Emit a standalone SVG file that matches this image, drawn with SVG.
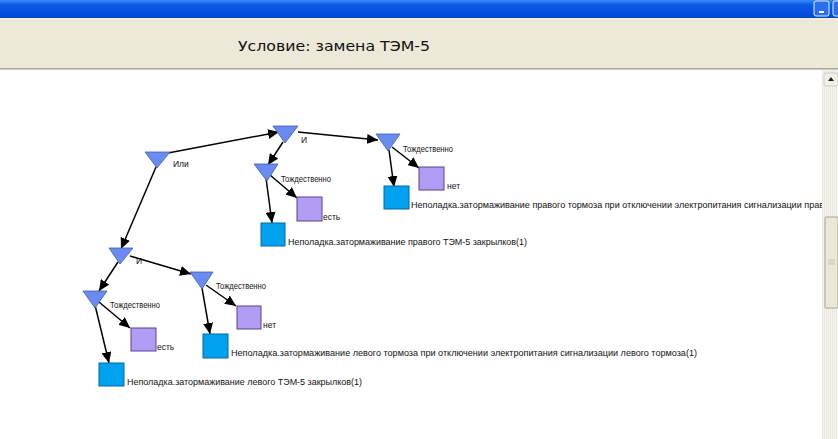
<svg xmlns="http://www.w3.org/2000/svg" width="838" height="439" viewBox="0 0 838 439">
<style>
.tri{fill:#6a8cf0;stroke:#3b5bb5;stroke-width:0.8}
.pur{fill:#b29df5;stroke:#5b3f8c;stroke-width:1}
.blu{fill:#00a2f0;stroke:#0068a8;stroke-width:1}
.lbl{font-family:"Liberation Sans",Arial,sans-serif;font-size:8.5px;fill:#111}
.edge{stroke:#000;stroke-width:1.5;fill:none;marker-end:url(#ah)}
</style>
<defs>
<marker id="ah" markerUnits="userSpaceOnUse" markerWidth="12" markerHeight="10" refX="11" refY="5" orient="auto">
<path d="M0,0 L11,5 L0,10 z" fill="#000"/>
</marker>
<linearGradient id="tb" x1="0" y1="0" x2="0" y2="1">
<stop offset="0" stop-color="#3d8cf7"/>
<stop offset="0.25" stop-color="#0a5ce8"/>
<stop offset="1" stop-color="#0048d6"/>
</linearGradient>
<pattern id="trk" width="2" height="4" patternUnits="userSpaceOnUse">
<rect width="2" height="4" fill="#f5f4ef"/>
<rect width="1" height="4" fill="#ebe9df"/>
</pattern>
</defs>

<!-- window chrome -->
<rect x="0" y="0" width="838" height="18" fill="url(#tb)"/>
<rect x="814" y="1" width="15" height="15" rx="2" fill="#2a6ff0" stroke="#e8eefc" stroke-width="1"/>
<rect x="819" y="11" width="5" height="2" fill="#fff"/>
<rect x="833" y="1" width="8" height="15" rx="2" fill="#2a6ff0" stroke="#e8eefc" stroke-width="1"/>
<rect x="0" y="18" width="838" height="2" fill="#f3ecd6"/>
<rect x="0" y="20" width="838" height="48" fill="#ece9d8"/>
<rect x="0" y="68" width="838" height="1" fill="#a7a69e"/>
<rect x="0" y="69" width="838" height="1" fill="#d0cfc6"/>
<rect x="0" y="70" width="838" height="369" fill="#ffffff"/>
<text x="238" y="51" font-family="'DejaVu Sans',Tahoma,sans-serif" font-size="14" fill="#111" textLength="192" lengthAdjust="spacingAndGlyphs">Условие: замена ТЭМ-5</text>

<!-- connectors -->
<g id="connectors">
<line class="edge" x1="168" y1="153" x2="279" y2="132"/>
<line class="edge" x1="156" y1="167" x2="121" y2="249"/>
<line class="edge" x1="283" y1="142" x2="268" y2="165"/>
<line class="edge" x1="298" y1="132" x2="378" y2="140"/>
<line class="edge" x1="389" y1="150" x2="394" y2="187"/>
<line class="edge" x1="392" y1="147" x2="419" y2="168"/>
<line class="edge" x1="266" y1="178" x2="272" y2="223"/>
<line class="edge" x1="270" y1="175" x2="297" y2="198"/>
<line class="edge" x1="118" y1="262" x2="99" y2="291"/>
<line class="edge" x1="130" y1="256" x2="191" y2="274"/>
<line class="edge" x1="95" y1="305" x2="109" y2="363"/>
<line class="edge" x1="99" y1="302" x2="130" y2="328"/>
<line class="edge" x1="202" y1="288" x2="210" y2="334"/>
<line class="edge" x1="206" y1="285" x2="236" y2="306"/>
</g>

<!-- nodes -->
<g id="n-ili"><polygon class="tri" points="145,152 170,152 157,168"/><text class="lbl" x="173" y="167">Или</text></g>
<g id="n-i-top"><polygon class="tri" points="273,126 298,126 285,143"/><text class="lbl" x="301" y="143">И</text></g>
<g id="n-tozh-r"><polygon class="tri" points="376,134 400,134 388,151"/><text class="lbl" x="403" y="152" textLength="50" lengthAdjust="spacingAndGlyphs">Тождественно</text></g>
<g id="n-tozh-m"><polygon class="tri" points="254,164 278,164 267,181"/><text class="lbl" x="281" y="182" textLength="50" lengthAdjust="spacingAndGlyphs">Тождественно</text></g>
<g id="n-net-r"><rect class="pur" x="419" y="167" width="25" height="23"/><text class="lbl" x="447" y="189">нет</text></g>
<g id="n-fault-r"><rect class="blu" x="384" y="186" width="25" height="23"/><text class="lbl" x="411" y="208" textLength="413" lengthAdjust="spacingAndGlyphs">Неполадка.затормаживание правого тормоза при отключении электропитания сигнализации прав</text></g>
<g id="n-est-m"><rect class="pur" x="297" y="197" width="25" height="24"/><text class="lbl" x="323" y="220">есть</text></g>
<g id="n-fault-m"><rect class="blu" x="261" y="223" width="24" height="23"/><text class="lbl" x="288" y="245" textLength="239" lengthAdjust="spacingAndGlyphs">Неполадка.затормаживание правого ТЭМ-5 закрылков(1)</text></g>
<g id="n-i-low"><polygon class="tri" points="109,248 133,248 120,264"/><text class="lbl" x="136" y="264">И</text></g>
<g id="n-tozh-ll"><polygon class="tri" points="83,291 107,291 95,308"/><text class="lbl" x="110" y="308" textLength="50" lengthAdjust="spacingAndGlyphs">Тождественно</text></g>
<g id="n-tozh-lr"><polygon class="tri" points="190,272 213,272 202,289"/><text class="lbl" x="216" y="289" textLength="50" lengthAdjust="spacingAndGlyphs">Тождественно</text></g>
<g id="n-est-l"><rect class="pur" x="131" y="328" width="25" height="23"/><text class="lbl" x="157" y="350">есть</text></g>
<g id="n-net-lr"><rect class="pur" x="237" y="306" width="24" height="23"/><text class="lbl" x="263" y="328">нет</text></g>
<g id="n-fault-ll"><rect class="blu" x="99" y="363" width="25" height="23"/><text class="lbl" x="127" y="385" textLength="235" lengthAdjust="spacingAndGlyphs">Неполадка.затормаживание левого ТЭМ-5 закрылков(1)</text></g>
<g id="n-fault-lr"><rect class="blu" x="203" y="334" width="25" height="24"/><text class="lbl" x="231" y="356" textLength="466" lengthAdjust="spacingAndGlyphs">Неполадка.затормаживание левого тормоза при отключении электропитания сигнализации левого тормоза(1)</text></g>

<!-- scrollbar -->
<rect x="822" y="70" width="16" height="369" fill="url(#trk)"/>
<rect x="824" y="73" width="14" height="13" rx="1" fill="#f0efe8" stroke="#c9c7ba" stroke-width="0.8"/>
<path d="M828,81 L831,77 L834,81 z" fill="#222"/>
<rect x="825" y="217" width="13" height="91" rx="1" fill="#ebe8d6" stroke="#a8a69a" stroke-width="1"/>
<path d="M828,260 h7 M828,262 h7 M828,264 h7" stroke="#c8c5b4" stroke-width="1"/>
</svg>
